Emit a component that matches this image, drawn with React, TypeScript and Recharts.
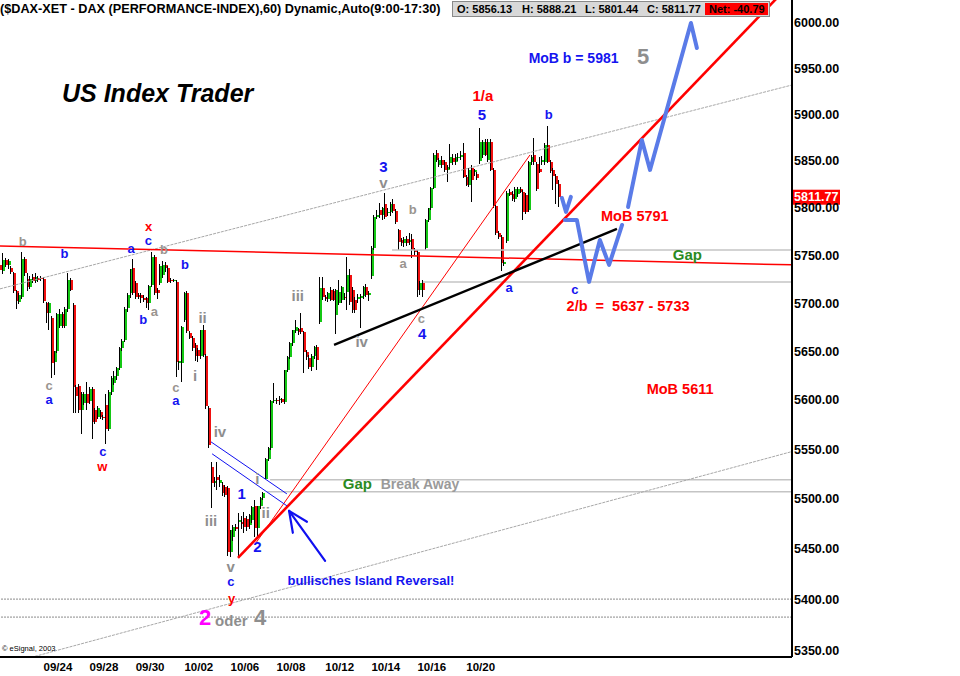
import React from "react";
import { ComposedChart, Bar, Line, XAxis, YAxis, ReferenceLine, ReferenceDot } from "recharts";

// hourly bars 9:00-17:30, oldest first: [open, high, low, close]
const ohlc: [number, number, number, number][] = [
  [5740, 5743, 5731, 5735], [5734, 5753, 5731, 5746], [5746, 5748, 5738, 5740], [5740, 5747, 5736, 5744],
  [5737, 5739, 5731, 5733], [5732, 5733, 5711, 5713], [5713, 5714, 5694, 5703], [5702, 5711, 5700, 5709],
  [5707, 5754, 5705, 5747], [5747, 5749, 5729, 5732], [5726, 5732, 5713, 5717], [5717, 5729, 5715, 5726],
  [5728, 5731, 5721, 5723], [5724, 5732, 5721, 5728], [5727, 5729, 5722, 5725], [5727, 5729, 5724, 5726],
  [5726, 5728, 5701, 5703], [5701, 5702, 5680, 5690], [5690, 5702, 5673, 5701], [5685, 5687, 5623, 5639],
  [5639, 5651, 5626, 5651], [5651, 5690, 5649, 5689], [5677, 5694, 5675, 5689], [5689, 5691, 5675, 5677],
  [5677, 5696, 5675, 5694], [5694, 5732, 5691, 5725], [5725, 5727, 5713, 5714], [5699, 5701, 5587, 5614],
  [5614, 5616, 5587, 5605], [5615, 5617, 5587, 5590], [5590, 5609, 5566, 5607], [5597, 5609, 5595, 5607],
  [5607, 5619, 5590, 5597], [5599, 5614, 5596, 5612], [5612, 5614, 5561, 5578], [5590, 5592, 5576, 5578],
  [5583, 5594, 5581, 5592], [5588, 5590, 5581, 5583], [5583, 5585, 5580, 5582], [5595, 5607, 5556, 5571],
  [5571, 5611, 5569, 5609], [5609, 5625, 5606, 5623], [5618, 5630, 5616, 5625], [5625, 5634, 5621, 5633],
  [5633, 5655, 5631, 5654], [5654, 5663, 5651, 5661], [5662, 5696, 5660, 5694], [5695, 5711, 5691, 5709],
  [5711, 5736, 5706, 5736], [5737, 5747, 5709, 5711], [5721, 5724, 5705, 5707], [5709, 5711, 5705, 5707],
  [5709, 5711, 5701, 5706], [5706, 5709, 5702, 5704], [5706, 5707, 5695, 5701], [5701, 5719, 5693, 5718],
  [5719, 5754, 5717, 5749], [5749, 5751, 5709, 5711], [5714, 5716, 5705, 5711], [5721, 5741, 5719, 5739],
  [5730, 5744, 5727, 5740], [5740, 5743, 5733, 5737], [5737, 5739, 5721, 5723], [5725, 5727, 5721, 5723],
  [5724, 5726, 5722, 5725], [5723, 5725, 5624, 5640], [5638, 5641, 5631, 5640], [5639, 5677, 5619, 5676],
  [5683, 5712, 5681, 5711], [5711, 5713, 5669, 5671], [5669, 5671, 5663, 5664], [5664, 5666, 5651, 5654],
  [5657, 5659, 5641, 5646], [5652, 5654, 5639, 5646], [5646, 5673, 5643, 5673], [5673, 5678, 5645, 5647],
  [5646, 5648, 5591, 5594], [5592, 5594, 5552, 5555],
  [5532, 5537, 5491, 5516], [5516, 5522, 5512, 5518], [5522, 5537, 5509, 5519], [5516, 5524, 5512, 5519],
  [5514, 5517, 5503, 5506], [5512, 5514, 5502, 5504], [5511, 5513, 5443, 5447], [5447, 5469, 5442, 5469],
  [5462, 5474, 5458, 5472], [5472, 5475, 5468, 5470], [5477, 5486, 5442, 5479], [5477, 5483, 5470, 5475],
  [5481, 5487, 5466, 5472], [5480, 5483, 5468, 5472], [5474, 5485, 5470, 5484], [5479, 5493, 5476, 5492],
  [5493, 5499, 5462, 5471], [5471, 5493, 5462, 5493], [5493, 5502, 5490, 5501], [5501, 5507, 5499, 5506],
  [5520, 5541, 5520, 5540], [5540, 5553, 5538, 5552], [5552, 5600, 5550, 5599], [5599, 5618, 5597, 5600],
  [5600, 5603, 5596, 5599], [5600, 5605, 5595, 5601], [5601, 5603, 5597, 5598], [5598, 5631, 5596, 5631],
  [5631, 5646, 5629, 5645], [5645, 5660, 5643, 5659], [5659, 5673, 5656, 5673], [5671, 5683, 5669, 5676],
  [5674, 5675, 5667, 5670], [5675, 5690, 5668, 5670], [5670, 5672, 5628, 5650], [5650, 5652, 5642, 5645],
  [5644, 5647, 5632, 5634], [5634, 5648, 5630, 5646], [5646, 5656, 5643, 5655], [5655, 5657, 5631, 5642],
  [5681, 5728, 5679, 5716], [5716, 5728, 5704, 5707], [5707, 5709, 5703, 5705], [5705, 5712, 5702, 5711],
  [5714, 5717, 5703, 5704], [5713, 5715, 5703, 5704], [5688, 5715, 5668, 5714], [5701, 5725, 5699, 5712],
  [5704, 5718, 5701, 5717], [5707, 5711, 5704, 5706], [5712, 5749, 5693, 5730], [5730, 5736, 5699, 5702],
  [5714, 5717, 5690, 5693], [5704, 5707, 5690, 5693], [5705, 5710, 5701, 5707], [5706, 5710, 5675, 5708],
  [5708, 5718, 5705, 5717], [5717, 5720, 5707, 5709], [5709, 5713, 5703, 5711], [5729, 5760, 5726, 5758],
  [5758, 5793, 5756, 5791], [5791, 5798, 5789, 5793], [5798, 5806, 5790, 5793], [5793, 5801, 5788, 5800],
  [5805, 5816, 5789, 5791], [5795, 5800, 5792, 5796], [5796, 5807, 5792, 5805], [5805, 5810, 5795, 5797],
  [5797, 5799, 5783, 5785], [5777, 5778, 5756, 5764], [5767, 5769, 5760, 5763], [5763, 5770, 5759, 5768],
  [5768, 5771, 5760, 5763], [5764, 5774, 5761, 5767], [5768, 5773, 5748, 5756], [5756, 5758, 5751, 5754],
  [5754, 5756, 5707, 5714], [5714, 5723, 5709, 5721], [5721, 5725, 5707, 5714], [5758, 5789, 5756, 5788],
  [5788, 5800, 5786, 5800], [5800, 5823, 5798, 5822], [5822, 5859, 5820, 5857], [5859, 5862, 5849, 5851],
  [5846, 5854, 5844, 5851], [5851, 5856, 5843, 5846], [5849, 5851, 5839, 5841], [5841, 5846, 5828, 5844],
  [5848, 5868, 5842, 5855], [5854, 5858, 5846, 5849], [5849, 5858, 5846, 5855], [5854, 5859, 5850, 5855],
  [5855, 5861, 5851, 5857], [5859, 5870, 5832, 5833], [5833, 5835, 5824, 5825], [5825, 5843, 5823, 5841],
  [5843, 5846, 5807, 5830], [5839, 5842, 5834, 5841], [5836, 5839, 5830, 5832], [5850, 5886, 5847, 5871],
  [5857, 5873, 5854, 5871], [5871, 5874, 5856, 5857], [5851, 5874, 5849, 5871], [5871, 5874, 5840, 5841],
  [5841, 5843, 5800, 5802], [5802, 5804, 5772, 5774], [5774, 5776, 5768, 5770], [5770, 5772, 5734, 5742],
  [5741, 5745, 5739, 5743], [5765, 5818, 5763, 5816], [5817, 5820, 5813, 5814], [5815, 5818, 5808, 5810],
  [5810, 5823, 5807, 5821], [5815, 5823, 5812, 5821], [5821, 5823, 5816, 5817], [5817, 5819, 5788, 5796],
  [5814, 5816, 5794, 5796], [5798, 5850, 5796, 5849], [5849, 5857, 5846, 5855], [5857, 5875, 5846, 5849],
  [5847, 5849, 5818, 5820], [5842, 5855, 5838, 5839], [5849, 5856, 5846, 5851], [5849, 5870, 5846, 5867],
  [5867, 5888, 5848, 5849], [5849, 5851, 5838, 5840], [5841, 5843, 5819, 5834], [5834, 5836, 5805, 5826],
  [5826, 5830, 5801, 5812],
];

const dayTicks = [21, 38, 55, 73, 90, 107, 125, 142, 159, 177];
const dayLabels = ["09/24", "09/28", "09/30", "10/02", "10/06", "10/08", "10/12", "10/14", "10/16", "10/20"];
const priceTicks = [5350, 5400, 5450, 5500, 5550, 5600, 5650, 5700, 5750, 5800, 5850, 5900, 5950, 6000];
const quote = { o: "5856.13", h: "5888.21", l: "5801.44", c: "5811.77", net: "-40.79", last: 5811.77 };

const X_DOMAIN = [-0.37, 291.9];
const Y_DOMAIN = [5343.7, 6024.9];

// drawn lines: [bar, price] pairs
type Pt = [number, number];
const channelTop: Pt[] = [[-0.37, 5715.3], [291.9, 5932.1]];
const channelBottom: Pt[] = [[-0.37, 5335.1], [291.9, 5548.0]];
const oldResistance: Pt[] = [[-0.37, 5760.3], [291.9, 5740.4]];
const gapUpper: Pt[][] = [[[144.3, 5756.1], [291.9, 5756.1]], [[155.7, 5722.6], [291.9, 5722.6]]];
const gapLower: Pt[][] = [[[99.3, 5519.4], [291.9, 5519.4]], [[98.2, 5507.3], [291.9, 5507.3]]];
const dottedLevels = [5400.5, 5382.8];
const mainTrend: Pt[] = [[87.45, 5441.3], [291.9, 6044.3]];
const steepTrend: Pt[] = [[94.1, 5456.3], [195.2, 5856.8]];
const wave4Line: Pt[] = [[122.9, 5657.1], [227.3, 5778.2]];
const downChannel: Pt[][] = [[[77.5, 5557.8], [105.5, 5505.3]], [[77.9, 5545.7], [105.5, 5493.3]]];
const arrow: Pt[][] = [
  [[119.6, 5438.4], [106.3, 5488.2]],
  [[106.3, 5488.2], [112.9, 5477.3]],
  [[106.3, 5488.2], [107.7, 5466.3]],
];
const projA = [{ i: 207.0, p: 5811.0 }, { i: 208.5, p: 5796.2 }, { i: 210.3, p: 5812.1 }];
const projB = [
  { i: 208.1, p: 5787.7 }, { i: 212.5, p: 5787.7 }, { i: 217.0, p: 5722.6 },
  { i: 221.0, p: 5766.6 }, { i: 224.4, p: 5740.4 }, { i: 229.2, p: 5782.4 },
];
const projC = [
  { i: 231.4, p: 5801.4 }, { i: 236.5, p: 5872.9 }, { i: 239.5, p: 5840.8 },
  { i: 254.6, p: 5999.7 }, { i: 256.8, p: 5972.3 },
];

// wave counts and notes: text, bar, price, style
const notes: [string, number, number, string][] = [
  ["b", 8.0, 5764.8, "g"], ["b", 23.4, 5751.9, "b"], ["c", 17.8, 5615.3, "g"], ["a", 17.8, 5600.6, "b"],
  ["c", 37.6, 5547.7, "b"], ["w", 37.4, 5532.9, "r"], ["x", 54.5, 5780.6, "r"], ["c", 54.4, 5765.6, "b"],
  ["a", 48.0, 5757.9, "b"], ["b", 60.1, 5756.1, "g"], ["b", 67.9, 5740.4, "b"], ["b", 52.5, 5683.0, "b"],
  ["a", 56.6, 5691.6, "g"], ["c", 64.5, 5613.2, "g"], ["a", 64.5, 5599.9, "b"], ["ii", 74.4, 5685.4, "rom"],
  ["i", 71.6, 5625.2, "rom"], ["iv", 80.8, 5568.3, "rom"], ["iii", 77.5, 5478.6, "rom"], ["1", 88.8, 5506.1, "num"],
  ["i", 94.6, 5521.2, "rom"], ["ii", 97.7, 5486.6, "rom"], ["2", 94.6, 5452.6, "num"], ["v", 84.8, 5432.5, "rom"],
  ["c", 84.8, 5417.6, "b"], ["y", 85.1, 5401.5, "r"], ["iii", 109.5, 5708.0, "rom"], ["iv", 133.1, 5660.5, "rom"],
  ["3", 141.1, 5844.3, "num"], ["v", 141.1, 5827.7, "rom"], ["b", 151.9, 5798.3, "g"], ["a", 148.4, 5741.4, "g"],
  ["c", 155.1, 5684.5, "g"], ["4", 155.4, 5669.0, "num"], ["1/a", 177.8, 5920.2, "numRed"], ["5", 177.5, 5900.5, "num"],
  ["b", 202.1, 5900.5, "b"], ["a", 187.5, 5717.0, "b"], ["c", 211.8, 5714.2, "b"],
  ["MoB b = 5981", 211.3, 5961.4, "mobBlue"], ["5", 237.0, 5962.9, "big5"], ["MoB 5791", 233.9, 5792.0, "mobRed"],
  ["Gap", 253.3, 5750.9, "gap"], ["2/b  =  5637 - 5733", 231.4, 5697.5, "mobRed"], ["MoB 5611", 250.6, 5611.9, "mobRed"],
  ["Gap", 131.5, 5515.4, "gap"], ["Break Away", 154.6, 5515.4, "break"],
  ["bullisches Island Reversal!", 136.5, 5418.6, "island"],
  ["2", 75.3, 5382.1, "big2"], ["oder", 85.0, 5379.2, "oder"], ["4", 95.6, 5382.1, "big4"],
];

const FONT = "Arial, 'Liberation Sans', sans-serif";
const noteStyle: Record<string, { fill: string; size: number }> = {
  b: { fill: "#1414f0", size: 13 },
  g: { fill: "#9a9590", size: 13 },
  r: { fill: "#ff0000", size: 13 },
  rom: { fill: "#8e8e8e", size: 15 },
  num: { fill: "#1414f0", size: 15 },
  numRed: { fill: "#ff0000", size: 15 },
  mobBlue: { fill: "#1414f0", size: 14 },
  mobRed: { fill: "#ff0000", size: 14.5 },
  gap: { fill: "#2a8a22", size: 15 },
  break: { fill: "#9a9a9a", size: 14 },
  island: { fill: "#1414f0", size: 13 },
  big2: { fill: "#ff00ff", size: 22 },
  big4: { fill: "#8e8e8e", size: 22 },
  big5: { fill: "#8e8e8e", size: 22 },
  oder: { fill: "#8e8e8e", size: 15 },
};

const rows = ohlc.map(([o, h, l, c], i) => ({ i, o, h, l, c, range: [l, h] }));

function Candle(props: any) {
  const { x, y, width, height, payload } = props;
  if (!payload || !Number.isFinite(y) || !Number.isFinite(height)) return null;
  const { o, h, l, c } = payload;
  const top = Math.min(y, y + height);
  const span = Math.max(Math.abs(height), 1);
  const py = (v: number) => top + ((h - v) / (h - l)) * span;
  const left = Math.round(x + width / 2 - 1.5);
  const yo = py(o);
  const yc = py(c);
  return (
    <g shapeRendering="crispEdges">
      <rect x={left} y={Math.min(yo, yc)} width={3} height={Math.max(1, Math.abs(yc - yo))} fill={c >= o ? "#14c814" : "#f01010"} />
      <rect x={left} y={top} width={1} height={span} fill="#000" />
    </g>
  );
}

const PriceTick = (p: any) => (
  <text x={p.x} y={p.y} dominantBaseline="central" fontFamily={FONT} fontSize={12.5} fontWeight="bold" fill="#000">
    {p.payload.value.toFixed(2)}
  </text>
);

const DayTick = (p: any) => (
  <text x={p.x} y={p.y + 10} textAnchor="middle" dominantBaseline="central" fontFamily={FONT} fontSize={11.5} fontWeight="bold" fill="#000">
    {dayLabels[dayTicks.indexOf(p.payload.value)]}
  </text>
);

const seg = (pts: Pt[]) => pts.map(([i, p]) => ({ x: i, y: p }));

export default function App() {
  return (
    <div style={{ position: "absolute", left: 0, top: 0, width: 960, height: 676, background: "#fff", fontFamily: FONT }}>
      <ComposedChart width={960} height={676} data={rows} margin={{ top: 0, right: 0, bottom: 0, left: 0 }}>
        <XAxis
          dataKey="i"
          type="number"
          domain={X_DOMAIN}
          allowDataOverflow
          ticks={dayTicks}
          interval={0}
          height={19}
          tickSize={0}
          tickMargin={0}
          tickLine={false}
          axisLine={{ stroke: "#000", strokeWidth: 2 }}
          tick={<DayTick />}
        />
        <YAxis
          orientation="right"
          type="number"
          scale="log"
          domain={Y_DOMAIN}
          allowDataOverflow
          ticks={priceTicks}
          interval={0}
          width={168}
          tickSize={0}
          tickMargin={2}
          tickLine={false}
          axisLine={{ stroke: "#000", strokeWidth: 2 }}
          tick={<PriceTick />}
        />

        {dottedLevels.map((v) => (
          <ReferenceLine key={v} y={v} stroke="#8a8a8a" strokeDasharray="2 1" strokeWidth={1} ifOverflow="hidden" />
        ))}
        {[...gapUpper, ...gapLower].map((s, k) => (
          <ReferenceLine key={"gap" + k} segment={seg(s)} stroke="#c4c4c4" strokeWidth={1.5} ifOverflow="hidden" />
        ))}
        <ReferenceLine segment={seg(channelTop)} stroke="#a8a8a8" strokeDasharray="3 1" strokeWidth={1} ifOverflow="hidden" />
        <ReferenceLine segment={seg(channelBottom)} stroke="#a8a8a8" strokeDasharray="3 1" strokeWidth={1} ifOverflow="hidden" />
        <ReferenceLine segment={seg(oldResistance)} stroke="#ff0000" strokeWidth={1.5} ifOverflow="hidden" />

        <Bar dataKey="range" barSize={3} shape={<Candle />} isAnimationActive={false} />

        <ReferenceLine segment={seg(steepTrend)} stroke="#ff0000" strokeWidth={1} ifOverflow="hidden" />
        <ReferenceLine segment={seg(mainTrend)} stroke="#ff0000" strokeWidth={2.6} ifOverflow="hidden" />
        <ReferenceLine segment={seg(wave4Line)} stroke="#000" strokeWidth={2.4} ifOverflow="hidden" />
        {downChannel.map((s, k) => (
          <ReferenceLine key={"dc" + k} segment={seg(s)} stroke="#1010f0" strokeWidth={1} ifOverflow="hidden" />
        ))}
        {arrow.map((s, k) => (
          <ReferenceLine key={"ar" + k} segment={seg(s)} stroke="#1010f0" strokeWidth={2.2} strokeLinecap="round" ifOverflow="hidden" />
        ))}

        {[projA, projB, projC].map((d, k) => (
          <Line
            key={"proj" + k}
            data={d}
            dataKey="p"
            type="linear"
            stroke="#5a7be8"
            strokeWidth={4}
            strokeLinejoin="round"
            strokeLinecap="round"
            dot={false}
            activeDot={false}
            isAnimationActive={false}
          />
        ))}

        {notes.map(([t, i, p, s], k) => {
          const st = noteStyle[s];
          return (
            <ReferenceDot
              key={"n" + k}
              x={i}
              y={p}
              r={0}
              ifOverflow="visible"
              shape={(q: any) => (
                <text
                  x={q.cx}
                  y={q.cy}
                  textAnchor="middle"
                  dominantBaseline="central"
                  fontFamily={FONT}
                  fontWeight="bold"
                  fontSize={st.size}
                  fill={st.fill}
                  style={{ whiteSpace: "pre" }}
                >
                  {t}
                </text>
              )}
            />
          );
        })}

        <ReferenceDot
          x={X_DOMAIN[1]}
          y={quote.last}
          r={0}
          ifOverflow="visible"
          shape={(q: any) => (
            <g>
              <rect x={q.cx + 1} y={q.cy - 7.5} width={47} height={15} fill="#ff0000" />
              <text x={q.cx + 2} y={q.cy} dominantBaseline="central" fontFamily={FONT} fontSize={12.5} fontWeight="bold" fill="#fff">
                {quote.c}
              </text>
            </g>
          )}
        />
      </ComposedChart>

      <div style={{ position: "absolute", left: 0, top: 1, fontSize: 12.7, fontWeight: "bold", whiteSpace: "nowrap", lineHeight: "16px" }}>
        ($DAX-XET - DAX (PERFORMANCE-INDEX),60) Dynamic,Auto(9:00-17:30)
      </div>
      <div style={{ position: "absolute", left: 452, top: 1, width: 316, height: 14, background: "#d8d8d8", border: "1px solid #8a8a8a", fontSize: 11, fontWeight: "bold", lineHeight: "14px", whiteSpace: "nowrap" }}>
        <span style={{ position: "absolute", left: 4 }}>O: {quote.o}</span>
        <span style={{ position: "absolute", left: 69 }}>H: {quote.h}</span>
        <span style={{ position: "absolute", left: 132 }}>L: {quote.l}</span>
        <span style={{ position: "absolute", left: 194 }}>C: {quote.c}</span>
        <span style={{ position: "absolute", left: 252, top: 1, width: 63, height: 12, background: "#ff0000", lineHeight: "12px", paddingLeft: 4, boxSizing: "border-box" }}>
          Net: {quote.net}
        </span>
      </div>
      <div style={{ position: "absolute", left: 62, top: 77, fontSize: 25, fontWeight: "bold", fontStyle: "italic", whiteSpace: "nowrap", lineHeight: "32px" }}>
        US Index Trader
      </div>
      <div style={{ position: "absolute", left: 2, top: 644, fontSize: 7.5, whiteSpace: "nowrap", lineHeight: "10px" }}>
        © eSignal, 2003
      </div>
    </div>
  );
}
